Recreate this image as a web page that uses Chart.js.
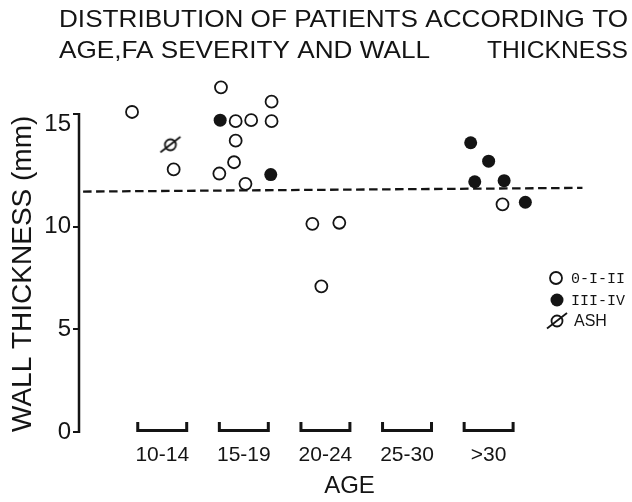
<!DOCTYPE html>
<html>
<head>
<meta charset="utf-8">
<script src="https://cdn.jsdelivr.net/npm/chart.js@4.4.0/dist/chart.umd.min.js"></script>
<style>
  html, body { margin: 0; padding: 0; background: #fff; }
</style>
</head>
<body>
<canvas id="chart" width="632" height="502"></canvas>
<script>
// age groups along the x axis (each group sits at index 0..4)
const ageGroups = ['10-14', '15-19', '20-24', '25-30', '>30'];

// FA severity 0-I-II (open circles)
const openX = [-0.37, 0.14, 0.72, 0.90, 1.09, 1.34, 1.34, 0.90, 0.88, 0.70, 1.02, 1.84, 2.17, 1.95, 4.17];
const openY = [15.6, 12.8, 16.8, 15.15, 15.2, 16.1, 15.15, 14.2, 13.15, 12.6, 12.1, 10.15, 10.2, 7.1, 11.1];

// FA severity III-IV (filled circles)
const filledX = [0.71, 1.33, 3.78, 4.00, 3.83, 4.19, 4.45];
const filledY = [15.2, 12.55, 14.1, 13.2, 12.2, 12.25, 11.2];

// ASH
const ashX = [0.10];
const ashY = [14.0];

// dashed reference line (start / end)
const refX = [-0.97, 5.15];
const refY = [11.72, 11.9];

const yTicks = [0, 5, 10, 15];
const yAxisTop = 15.5;

const titleLine1 = 'DISTRIBUTION OF PATIENTS ACCORDING TO';
const titleLine2a = 'AGE,FA SEVERITY AND WALL';
const titleLine2b = 'THICKNESS';

const ink = '#141414';

const toPoints = (xs, ys) => xs.map((x, i) => ({ x: x, y: ys[i] }));

// circle with a slash for ASH
function ashMarker() {
    const c = document.createElement('canvas');
    c.width = 26; c.height = 22;
    const g = c.getContext('2d');
    g.strokeStyle = ink;
    g.lineWidth = 1.8;
    g.beginPath();
    g.arc(13, 11, 5.5, 0, Math.PI * 2);
    g.stroke();
    g.beginPath();
    g.moveTo(3, 18.5);
    g.lineTo(23, 3);
    g.stroke();
    return c;
}
const ashStyle = ashMarker();

function fitText(c, text, x0, x1, y) {
    const w = c.measureText(text).width;
    c.save();
    c.translate(x0, y);
    c.scale((x1 - x0) / w, 1);
    c.fillText(text, 0, 0);
    c.restore();
}

const decorations = {
    id: 'decorations',
    beforeDatasetsDraw(chart) {
        // y axis line, only up to the top hook
        const c = chart.ctx;
        const ys = chart.scales.y;
        const left = chart.chartArea.left;
        c.save();
        c.strokeStyle = ink;
        c.lineWidth = 2.5;
        c.beginPath();
        c.moveTo(left, ys.getPixelForValue(0) + 1);
        c.lineTo(left, ys.getPixelForValue(yAxisTop) - 1);
        c.stroke();
        c.restore();
    },
    afterDraw(chart) {
        const c = chart.ctx;
        const xs = chart.scales.x;
        const base = chart.scales.y.getPixelForValue(0);
        c.save();
        c.fillStyle = ink;
        c.strokeStyle = ink;

        // title
        c.font = '24px "Liberation Sans", Arial, sans-serif';
        c.textBaseline = 'alphabetic';
        fitText(c, titleLine1, 59, 628, 27);
        fitText(c, titleLine2a, 59, 430, 58);
        fitText(c, titleLine2b, 487, 628, 58);

        // age group brackets
        c.lineWidth = 3;
        ageGroups.forEach((g, i) => {
            const l = xs.getPixelForValue(i - 0.3);
            const r = xs.getPixelForValue(i + 0.3);
            c.beginPath();
            c.moveTo(l, base - 10);
            c.lineTo(l, base - 1.5);
            c.lineTo(r, base - 1.5);
            c.lineTo(r, base - 10);
            c.stroke();
        });

        // legend
        const lx = 556, ly = [278, 300, 321];
        c.lineWidth = 1.8;
        c.beginPath();
        c.arc(lx, ly[0], 6, 0, Math.PI * 2);
        c.stroke();
        c.beginPath();
        c.arc(lx + 1, ly[1], 6.5, 0, Math.PI * 2);
        c.fill();
        c.drawImage(ashStyle, lx + 1 - 13, ly[2] - 11);
        c.textBaseline = 'middle';
        c.font = '15px "Liberation Mono", monospace';
        c.fillText('0-I-II', 571, ly[0] + 1);
        c.fillText('III-IV', 571, ly[1] + 1);
        c.font = '16px "Liberation Sans", Arial, sans-serif';
        c.fillText('ASH', 574, ly[2] + 1);
        c.restore();
    }
};

new Chart(document.getElementById('chart'), {
    type: 'scatter',
    data: {
        datasets: [
            {
                label: '0-I-II',
                data: toPoints(openX, openY),
                pointStyle: 'circle',
                pointRadius: 6,
                pointBorderWidth: 1.8,
                pointBorderColor: ink,
                pointBackgroundColor: '#fff',
                clip: false,
                order: 1
            },
            {
                label: 'III-IV',
                data: toPoints(filledX, filledY),
                pointStyle: 'circle',
                pointRadius: 6.5,
                pointBorderWidth: 0,
                pointBackgroundColor: ink,
                clip: false,
                order: 1
            },
            {
                label: 'ASH',
                data: toPoints(ashX, ashY),
                pointStyle: ashStyle,
                clip: false,
                order: 1
            },
            {
                type: 'line',
                label: 'mean',
                data: toPoints(refX, refY),
                borderColor: ink,
                borderWidth: 2.3,
                borderDash: [8.5, 4.5],
                pointRadius: 0,
                showLine: true,
                fill: false,
                clip: false,
                order: 10
            }
        ]
    },
    options: {
        responsive: false,
        animation: false,
        layout: { padding: { top: 73, left: 0, right: 12, bottom: 0 } },
        plugins: {
            legend: { display: false },
            tooltip: { enabled: false },
            title: { display: false }
        },
        scales: {
            x: {
                type: 'linear',
                min: -1.02,
                max: 5.61,
                afterBuildTicks: s => { s.ticks = ageGroups.map((g, i) => ({ value: i })); },
                afterFit: s => { s.height = 70; },
                border: { display: false },
                grid: { display: false },
                ticks: {
                    callback: v => ageGroups[v],
                    color: ink,
                    font: { family: '"Liberation Sans", Arial', size: 21 },
                    padding: 3,
                    maxRotation: 0,
                    autoSkip: false
                },
                title: {
                    display: true,
                    text: 'AGE',
                    color: ink,
                    font: { family: '"Liberation Sans", Arial', size: 24 },
                    padding: { top: 0, bottom: 1 }
                }
            },
            y: {
                min: 0,
                max: 17.5,
                afterBuildTicks: s => { s.ticks = yTicks.concat([yAxisTop]).map(v => ({ value: v })); },
                afterFit: s => { s.width = 79; },
                border: { display: false },
                grid: {
                    drawOnChartArea: false,
                    drawTicks: true,
                    tickLength: 6,
                    lineWidth: 2,
                    color: c => (c.tick && c.tick.value === 15) ? 'rgba(0,0,0,0)' : ink
                },
                ticks: {
                    callback: v => (v === yAxisTop ? '' : v),
                    color: ink,
                    font: { family: '"Liberation Sans", Arial', size: 24 },
                    padding: 2
                },
                title: {
                    display: true,
                    text: 'WALL THICKNESS (mm)',
                    align: 'start',
                    color: ink,
                    font: { family: '"Liberation Sans", Arial', size: 28 },
                    padding: { top: 6, bottom: 0 }
                }
            }
        }
    },
    plugins: [decorations]
});
</script>
</body>
</html>
